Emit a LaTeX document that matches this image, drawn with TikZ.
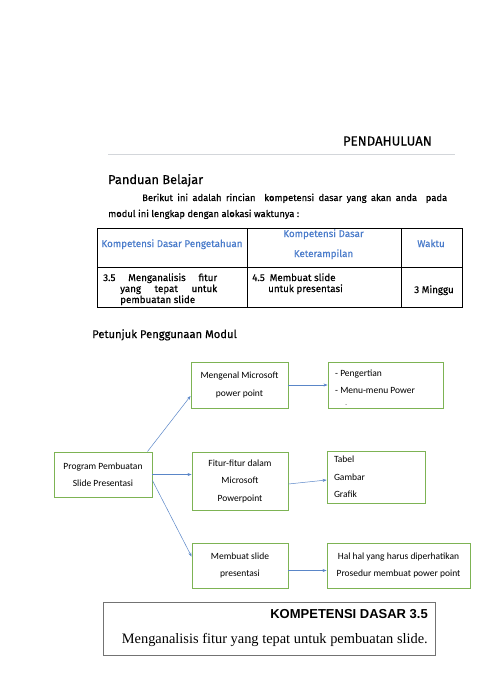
\documentclass[tikz,border=0pt]{standalone}
\usepackage{fontspec}
\setmainfont{Liberation Serif}
\newfontfamily\dinfont[FakeBold=0.4]{Fira Sans}
\newfontfamily\calfont{Carlito}
\newfontfamily\arialfont{Liberation Sans}
\usetikzlibrary{positioning, arrows.meta}

\definecolor{boxgreen}{HTML}{7DB354}
\definecolor{flowblue}{HTML}{5A86C8}
\definecolor{headblue}{HTML}{4A7CCB}
\definecolor{rulegray}{HTML}{D3D6DA}

\begin{document}
\begin{tikzpicture}[x=1pt, y=-1pt,
  txt/.style={inner sep=0pt, font=\dinfont\fontsize{9.4}{11}\selectfont},
  celltxt/.style={inner sep=0pt, font=\dinfont\fontsize{9.8}{12}\selectfont},
  headtxt/.style={celltxt, text=headblue, align=center},
  modbox/.style={draw=boxgreen, line width=0.9pt, inner sep=0pt, align=center,
    font=\calfont\fontsize{9.5}{17.5}\selectfont},
  listtxt/.style={inner sep=0pt, align=left, font=\calfont\fontsize{9.5}{17.5}\selectfont},
  flow/.style={draw=flowblue, line width=0.5pt, -{Stealth[length=4pt, width=3pt]}}
]

% Page
\fill[white] (0,0) rectangle (480,678);
\useasboundingbox (0,0) rectangle (480,678);

% Header
\node[txt, anchor=base east, font=\dinfont\fontsize{13.2}{15}\selectfont] (judul) at (432,145.5) {PENDAHULUAN};
\draw[rulegray, line width=1.2pt] (108,154.5) -- (455,154.5);

% Panduan belajar
\node[txt, anchor=base west, font=\dinfont\fontsize{12.8}{15}\selectfont] (panduan) at (108,184) {Panduan Belajar};
\node[txt, anchor=base west] (intro1) at (142,201) {\makebox[305pt][s]{Berikut ini adalah rincian \ kompetensi dasar yang akan anda \ pada}};
\node[txt, anchor=base west] (intro2) at (108,217) {modul ini lengkap dengan alokasi waktunya :};

% Table
\draw[line width=0.8pt] (97,228) rectangle (462,307);
\draw[line width=0.8pt] (97,267) -- (462,267);
\foreach \x in {247,401}
  \draw[line width=0.8pt] (\x,228) -- (\x,307);

\node[headtxt, anchor=base] (kdp) at (172,247) {Kompetensi Dasar Pengetahuan};
\node[headtxt, anchor=base] (kdk1) at (323.5,237) {Kompetensi Dasar};
\node[headtxt, anchor=base] (kdk2) at (323.5,257) {Keterampilan};
\node[headtxt, anchor=base] (waktu) at (431,247) {Waktu};

\node[celltxt, anchor=base west] (kd35a) at (103,281) {\makebox[114pt][s]{3.5 \ Menganalisis \ fitur}};
\node[celltxt, anchor=base west] (kd35b) at (120,292) {\makebox[97pt][s]{yang tepat untuk}};
\node[celltxt, anchor=base west] (kd35c) at (120,303) {pembuatan slide};
\node[celltxt, anchor=base west] (kd45a) at (252,281) {4.5\hspace{5pt}Membuat slide};
\node[celltxt, anchor=base west] (kd45b) at (268,292) {untuk presentasi};
\node[celltxt, anchor=base] (minggu) at (434,293) {3 Minggu};

% Petunjuk
\node[txt, anchor=base west, font=\dinfont\fontsize{11.2}{13}\selectfont] (petunjuk) at (92,338) {Petunjuk Penggunaan Modul};

% Module boxes
\node[modbox, minimum width=98pt, minimum height=45pt] (prog) at (103,474.5) {Program Pembuatan\\Slide Presentasi};
\node[modbox, minimum width=97pt, minimum height=46pt] (mengenal) at (239.5,385) {Mengenal Microsoft\\power point};
\node[modbox, minimum width=96pt, minimum height=58pt] (fitur) at (240,481) {Fitur-fitur dalam\\Microsoft\\Powerpoint};
\node[modbox, minimum width=96pt, minimum height=45pt] (membuat) at (240,565.5) {Membuat slide\\presentasi};
\node[modbox, minimum width=115pt, minimum height=46pt] (menu) at (385.5,385) {};
\node[modbox, minimum width=98pt, minimum height=52pt, text width=84pt, align=left] (tabel) at (376,477) {Tabel\\Gambar\\Grafik};
\node[modbox, minimum width=143pt, minimum height=45pt] (hal) at (398.5,565.5) {Hal hal yang harus diperhatikan\\Prosedur membuat power point};

% Text of the box that is cut off
\begin{scope}
  \clip (328,362) rectangle (443,404.5);
  \node[listtxt, anchor=base west] (menutxt) at (335,411) {- Pengertian\\- Menu-menu Power\\point};
\end{scope}

% Arrows
\draw[flow] ([xshift=-5pt]prog.north east) -- ([yshift=-11pt]mengenal.west);
\draw[flow] (prog.east) -- (prog.east -| fitur.west);
\draw[flow] ([yshift=-6pt]prog.east) -- ([yshift=9pt]membuat.west);
\draw[flow] (mengenal.east) -- (menu.west);
\draw[flow] ([yshift=-3pt]fitur.east) -- ([yshift=-3pt]tabel.west);
\draw[flow] ([yshift=-5pt]membuat.east) -- ([yshift=-5pt]hal.west);

% Kompetensi dasar box
\node[draw=black!55, line width=1pt, minimum width=332pt, minimum height=53pt] (kdbox) at (269,628.5) {};
\node[anchor=base east, inner sep=0pt, font=\arialfont\bfseries\fontsize{13}{15}\selectfont] (kdjudul) at (428,618) {KOMPETENSI DASAR 3.5};
\node[anchor=base east, inner sep=0pt, font=\fontsize{14.4}{17}\selectfont] (kdisi) at (428,643) {Menganalisis fitur yang tepat untuk pembuatan slide.};

\end{tikzpicture}
\end{document}
